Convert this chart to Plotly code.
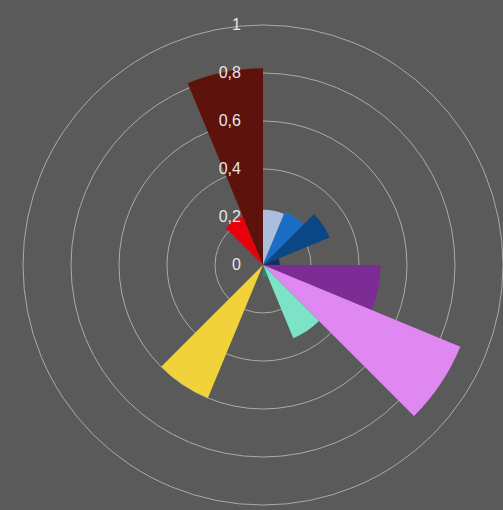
import plotly.graph_objects as go

directions = ["N", "NNE", "NE", "ENE", "E", "ESE", "SE", "SSE",
              "S", "SSW", "SW", "WSW", "W", "WNW", "NW", "NNW"]
values = [0.23, 0.24, 0.30, 0.07, 0.49, 0.89, 0.33, 0.05,
          0.0, 0.60, 0.0, 0.0, 0.0, 0.0, 0.22, 0.82]
bar_colors = ["#a9bfdc", "#1c6ec4", "#0a4784", "#1b2a66", "#7d2b95", "#e088f2",
              "#7de3c6", "#1f8f6b", "#888888", "#f2d23a", "#888888", "#888888",
              "#888888", "#888888", "#e8000a", "#5e120c"]
tick_vals = [0, 0.2, 0.4, 0.6, 0.8, 1.0]
tick_text = ["0", "0,2", "0,4", "0,6", "0,8", "1"]

bg = "#5a5a5a"
grid = "#aaaaaa"

fig = go.Figure()
fig.add_trace(go.Barpolar(
    r=values,
    theta=directions,
    marker=dict(color=bar_colors, line=dict(width=0)),
    hoverinfo="r+theta",
))

fig.update_layout(
    width=503, height=510,
    margin=dict(l=0, r=0, t=0, b=0),
    paper_bgcolor=bg,
    showlegend=False,
    separators=",.",
    polar=dict(
        domain=dict(x=[23 / 503, 1.0], y=[5 / 510, 485 / 510]),
        bgcolor=bg,
        bargap=0,
        angularaxis=dict(
            type="category",
            categoryarray=directions,
            rotation=78.75,
            direction="clockwise",
            showgrid=False,
            showticklabels=False,
            showline=True,
            linecolor=grid,
            linewidth=1,
            ticks="",
        ),
        radialaxis=dict(
            range=[0, 1],
            tickmode="array",
            tickvals=tick_vals,
            ticktext=tick_text,
            angle=90,
            tickangle=90,
            side="counterclockwise",
            showline=False,
            gridcolor=grid,
            gridwidth=1,
            ticks="outside",
            ticklen=16,
            tickcolor="rgba(0,0,0,0)",
            tickfont=dict(family="Liberation Sans, Arial, sans-serif", size=16, color="#e6e6e6"),
            layer="above traces",
        ),
    ),
)

fig.write_html(
    "out.html",
    config={"displayModeBar": False},
    post_script="document.body.style.margin='0';document.body.style.background='%s';" % bg,
)
